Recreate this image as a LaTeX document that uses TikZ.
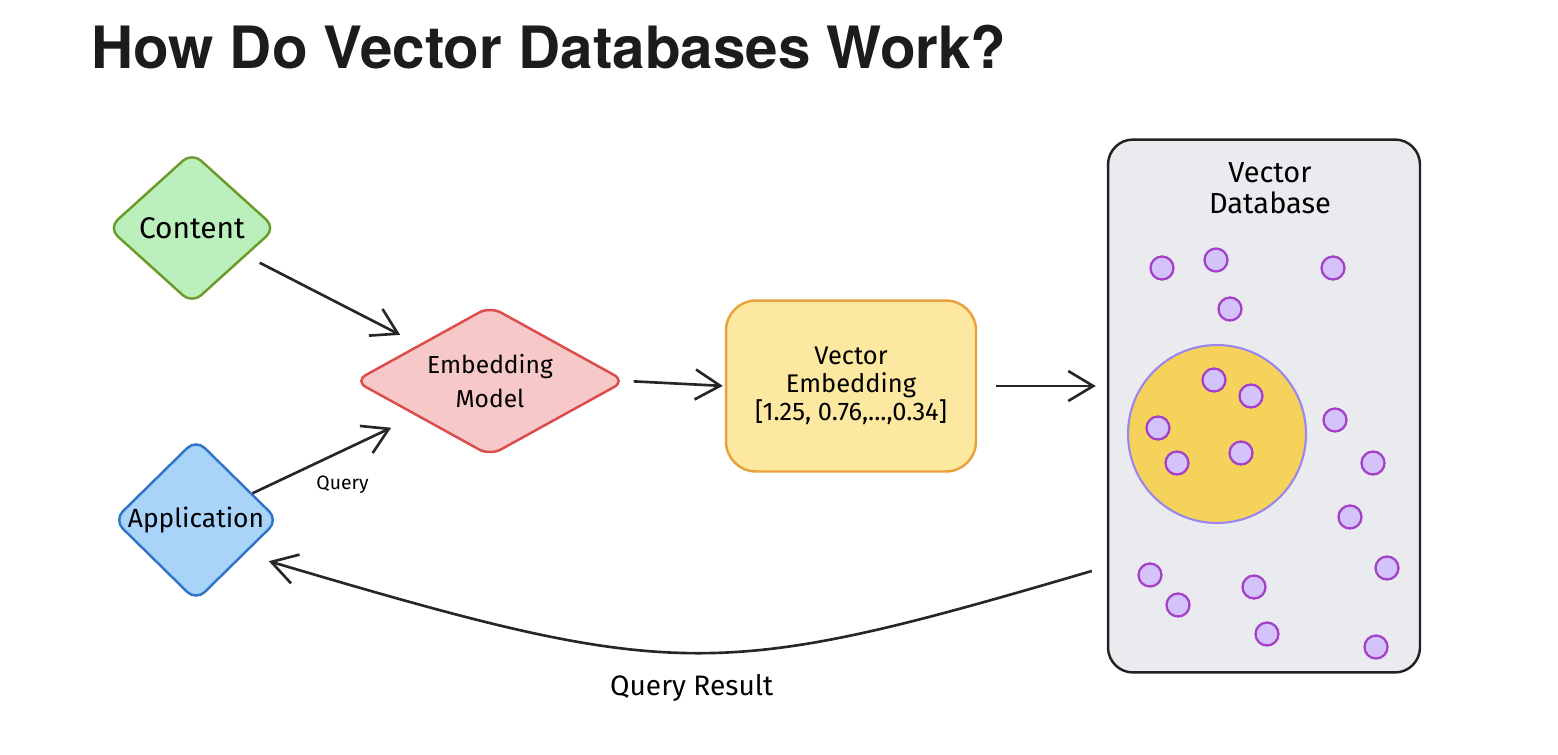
\documentclass[tikz,border=0pt]{standalone}
\usepackage{fontspec}
\setmainfont{Fira Sans}
\newfontfamily\titlefont{TeX Gyre Heros}
\usetikzlibrary{shapes.geometric,arrows.meta}
\definecolor{titlegray}{HTML}{1C1C1C}
\definecolor{contentfill}{HTML}{BBEFBB}
\definecolor{contentline}{HTML}{6B9B2B}
\definecolor{appfill}{HTML}{A8D4FA}
\definecolor{appline}{HTML}{3275C8}
\definecolor{embfill}{HTML}{F7C8C8}
\definecolor{embline}{HTML}{DD4B4B}
\definecolor{vecfill}{HTML}{FCE8A0}
\definecolor{vecline}{HTML}{E9A23B}
\definecolor{dbfill}{HTML}{E9EBEE}
\definecolor{dbline}{HTML}{222222}
\definecolor{clusterfill}{HTML}{F5D35A}
\definecolor{clusterline}{HTML}{9B86F0}
\definecolor{dotfill}{HTML}{D4C2FA}
\definecolor{dotline}{HTML}{A540C8}
\begin{document}
\begin{tikzpicture}[x=0.02cm,y=-0.02cm,
    flow/.style={line width=1.5pt,draw=black!85,-{Straight Barb[length=0.5cm,width=0.6cm]}},
    decision/.style={diamond,rounded corners=7pt,line width=1.4pt,inner sep=0pt,align=center},
    dot/.style={circle,draw=dotline,fill=dotfill,line width=1.3pt,minimum size=0.46cm,inner sep=0pt}]
  \useasboundingbox (0,0) rectangle (1558,754);
  \node[anchor=base west,font=\titlefont\bfseries\fontsize{33.2}{40}\selectfont,text=titlegray] (title) at (85,68) {How Do Vector Databases Work?};
  % inputs and model
  \node[decision,draw=contentline,fill=contentfill,minimum width=3.36cm,minimum height=3.04cm,font=\fontsize{17}{20}\selectfont] (content) at (192,228) {Content};
  \node[decision,draw=appline,fill=appfill,minimum width=3.3cm,minimum height=3.08cm,font=\fontsize{15}{18}\selectfont] (app) at (196,520) {Application};
  \node[decision,aspect=1.8,draw=embline,fill=embfill,minimum width=5.42cm,minimum height=3cm,font=\fontsize{14}{19}\selectfont] (embed) at (490,381) {Embedding\\Model};
  \node[draw=vecline,fill=vecfill,rounded corners=0.6cm,line width=1.4pt,minimum width=5cm,minimum height=3.42cm,align=center,font=\fontsize{14.5}{16}\selectfont] (vecemb) at (851,386) {Vector\\Embedding\\{[1.25, 0.76,...,0.34]}};
  % the database
  \node[draw=dbline,fill=dbfill,rounded corners=0.5cm,line width=1.4pt,minimum width=6.24cm,minimum height=10.66cm] (vdb) at (1264,406) {};
  \node[align=center,font=\fontsize{16.5}{18}\selectfont] (vdbname) at (1270,188) {Vector\\Database};
  \node[circle,draw=clusterline,fill=clusterfill,line width=1.2pt,minimum size=3.56cm] (cluster) at (1217,434) {};
  \foreach \x/\y [count=\i] in {1162/268,1216/260,1333/268,1230/309,1214/380,1251/396,1158/428,1177/463,1241/453,
      1335/420,1373/463,1350/517,1387/568,1150/575,1178/605,1254/587,1267/634,1376/647}
    \node[dot] (dot\i) at (\x,\y) {};
  % arrows
  \draw[flow,shorten <=0.3cm,shorten >=0.42cm] (content) -- (embed);
  \draw[flow,shorten >=0.55cm] (app) -- (embed) node[pos=.55,below=10pt,font=\fontsize{11}{13}\selectfont] (query) {Query};
  \draw[flow,shorten <=0.14cm,shorten >=0.04cm] (embed.east) -- (vecemb.west);
  \draw[flow,shorten <=0.38cm,shorten >=0.22cm] (vecemb.east) -- (vecemb.east -| vdb.west);
  \draw[flow] ([xshift=-0.3cm,yshift=-3.3cm]vdb.west) .. controls (714,682) and (677,682) .. ([xshift=0.62cm]app.south east)
    node[pos=.5,below=8pt,font=\fontsize{16}{19}\selectfont] (result) {Query Result};
\end{tikzpicture}
\end{document}
